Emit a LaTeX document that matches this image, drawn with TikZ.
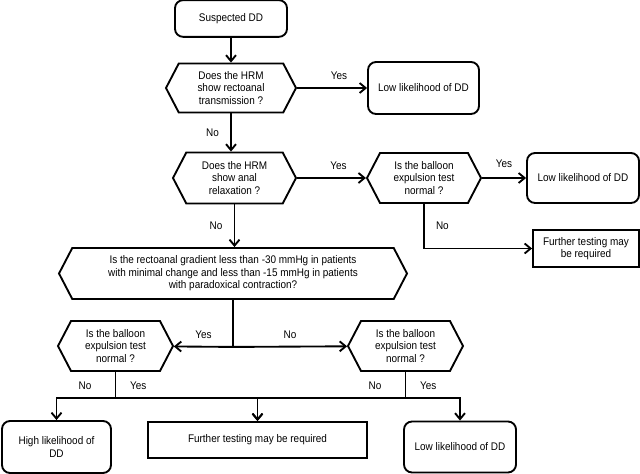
\documentclass[tikz,border=0pt]{standalone}
\usepackage{fontspec}
\setmainfont{Liberation Sans}[FakeStretch=0.9]
\usetikzlibrary{arrows.meta,shapes.symbols}
\tikzset{box/.style={draw,line width=1.4pt,align=center,inner sep=2pt},
  rbox/.style={box,rounded corners=6pt},
  hexq/.style={box,shape=signal,signal to=east and west,signal pointer angle=125}}

\begin{document}
\begin{tikzpicture}[x=.75pt,y=-.75pt,line width=1.4pt,font=\fontsize{8.3}{9.4}\selectfont,
  >={Straight Barb[length=4.5pt,width=7.5pt]}]
\useasboundingbox (0,0) rectangle (640,474);
% top row
\node[rbox,minimum width=84pt,minimum height=27.5pt] (start) at (231,18.5) {Suspected DD};
\node[hexq,minimum width=97.5pt,minimum height=36.75pt] (q1) at (231,88) {Does the HRM\\show rectoanal\\transmission ?};
\node[rbox,minimum width=83.25pt,minimum height=39pt] (low1) at (423.5,88) {Low likelihood of DD};
% second row
\node[hexq,minimum width=92.25pt,minimum height=38.25pt] (q2) at (234.5,178) {Does the HRM\\show anal\\relaxation ?};
\node[hexq,minimum width=85.5pt,minimum height=37.5pt] (q3) at (424,178) {Is the balloon\\expulsion test\\normal ?};
\node[rbox,minimum width=84pt,minimum height=37.5pt] (low2) at (583,178) {Low likelihood of DD};
\node[box,minimum width=79.5pt,minimum height=27.75pt] (fur1) at (586,248.5) {Further testing may\\be required};
% gradient
\node[hexq,minimum width=261pt,minimum height=38.25pt] (q4) at (233,273.5) {Is the rectoanal gradient less than -30 mmHg in patients\\with minimal change and less than -15 mmHg in patients\\with paradoxical contraction?};
\node[hexq,minimum width=86.25pt,minimum height=37.5pt] (q5) at (115.5,346) {Is the balloon\\expulsion test\\normal ?};
\node[hexq,minimum width=86.25pt,minimum height=37.5pt] (q6) at (405.5,346) {Is the balloon\\expulsion test\\normal ?};
% outcomes
\node[rbox,minimum width=81.75pt,minimum height=39pt] (high) at (56.5,447) {High likelihood of\\DD};
\node[box,minimum width=164.25pt,minimum height=27pt] (fur2) at (257.5,440) {Further testing may be required};
\node[rbox,minimum width=84pt,minimum height=38.25pt] (low3) at (460,447) {Low likelihood of DD};

\draw[->] (start) -- (q1);
\draw[->] (q1) -- (low1) node[pos=.6,above=2pt]{Yes};
\draw[->] (q1.south) -- (q1.south |- q2.north) node[midway,left=5pt]{No};
\draw[->] (q2) -- (q3) node[pos=.6,above=2pt]{Yes};
\draw[->] (q3) -- (low2) node[midway,above=4pt]{Yes};
\draw[->] (q3.south) |- (fur1) node[pos=.25,right=5pt]{No};
\draw[->] (q2.south) -- (q2.south |- q4.north) node[midway,left=5pt]{No};
\draw (q4.south) -- ++(0,47) coordinate (j4);
\draw[->] (j4) -- (q5) node[midway,above=2pt]{Yes};
\draw[->] (j4) -- (q6) node[midway,above=2pt]{No};
\draw (q5.south) -- ++(0,26) coordinate (j5) node[pos=.55,left=14pt]{No} node[pos=.55,right=7pt]{Yes};
\draw (q6.south) -- ++(0,26) coordinate (j6) node[pos=.55,left=14pt]{No} node[pos=.55,right=7pt]{Yes};
\draw[->] (j5) -| (high);
\draw[->] (j5) -| (fur2);
\draw[->] (j6) -| (fur2);
\draw[->] (j6) -| (low3);
\end{tikzpicture}
\end{document}
